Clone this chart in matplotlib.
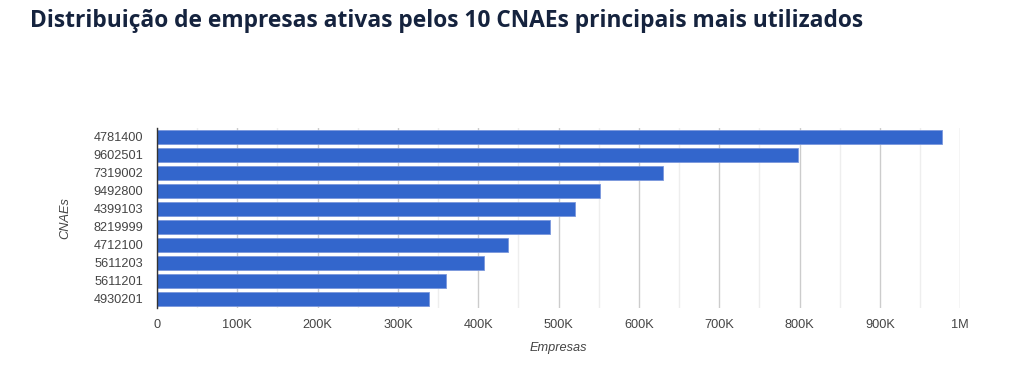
import matplotlib.pyplot as plt
from matplotlib.ticker import FuncFormatter, MultipleLocator

# === Data ===
cnaes = ["4781400", "9602501", "7319002", "9492800", "4399103",
         "8219999", "4712100", "5611203", "5611201", "4930201"]
empresas = [977600, 797900, 629400, 551700, 520200,
            489400, 437100, 407200, 359500, 338000]

title = "Distribuição de empresas ativas pelos 10 CNAEs principais mais utilizados"

# === Figure ===
fig = plt.figure(figsize=(10.24, 3.9), dpi=100)
ax = fig.add_axes([0.1533, 0.2103, 0.7845, 0.4615])

y = list(range(len(cnaes)))
ax.barh(y, empresas, height=0.75, color="#3366cc", edgecolor="#7b97dc", linewidth=0.6, zorder=3)
ax.set_yticks(y)
ax.set_yticklabels(cnaes)
ax.set_ylim(len(cnaes) - 0.5, -0.5)

ax.set_xlim(0, 1_000_000)
ax.xaxis.set_major_locator(MultipleLocator(100_000))
ax.xaxis.set_minor_locator(MultipleLocator(50_000))


def fmt(v, pos):
    if v == 0:
        return "0"
    if v >= 1_000_000:
        return f"{v / 1_000_000:g}M"
    return f"{v / 1000:g}K"


ax.xaxis.set_major_formatter(FuncFormatter(fmt))
ax.grid(axis="x", which="major", color="#cccccc", linewidth=1, zorder=0)
ax.grid(axis="x", which="minor", color="#eeeeee", linewidth=1, zorder=0)

for s in ["top", "right", "bottom"]:
    ax.spines[s].set_visible(False)
ax.spines["left"].set_color("#333333")
ax.spines["left"].set_linewidth(1)
ax.spines["left"].set_zorder(4)

ax.tick_params(axis="both", which="both", length=0, labelsize=9.2,
               labelcolor="#444444", labelfontfamily="Liberation Sans")
ax.tick_params(axis="y", pad=10)
ax.tick_params(axis="x", pad=8)

ax.set_xlabel("Empresas", fontsize=9.2, style="italic", color="#444444",
              family="Liberation Sans", labelpad=8)
ax.set_ylabel("CNAEs", fontsize=9.2, style="italic", color="#444444",
              family="Liberation Sans", labelpad=16)

fig.text(30 / 1024, 1 - 21 / 390, title, fontsize=16.35, fontweight="bold",
         color="#15233e", family="Open Sans", va="center", ha="left")

fig.savefig("out.png", dpi=100)
